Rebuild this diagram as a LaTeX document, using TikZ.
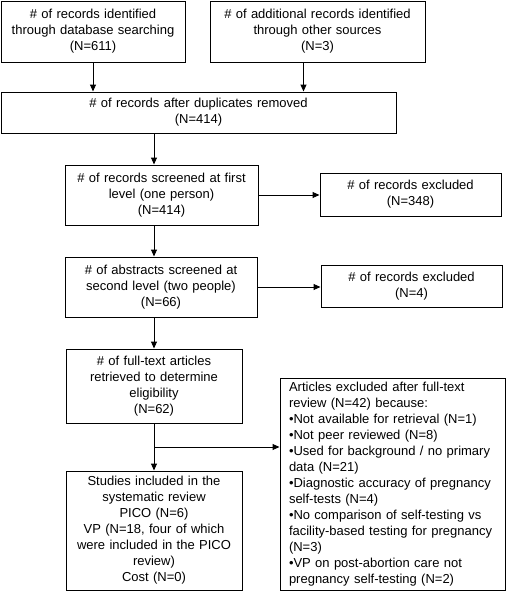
\documentclass[tikz,border=0pt]{standalone}
\usepackage{fontspec}
\setmainfont{Liberation Sans}
\usetikzlibrary{arrows.meta,calc}
\begin{document}
\begin{tikzpicture}[x=1pt, y=-1pt, >={Triangle[width=6pt,length=7pt]}]
\tikzstyle{every node}=[shape=rectangle, draw, line width=1pt, align=center, inner sep=2pt, font=\fontsize{13}{16}\selectfont]
\tikzstyle{box}=[text width=#1-4pt]
\useasboundingbox (0,0) rectangle (514,597);
\node[box=184pt, minimum height=61pt] (DB) at (93, 31.5) {\# of records identified\\through database searching\\(N=611)};
\node[box=215pt, minimum height=61pt] (OS) at (317.5, 31.5) {\# of additional records identified\\through other sources\\(N=3)};
\node[box=395pt, minimum height=41pt] (DR) at (198.5, 112.5) {\# of records after duplicates removed\\(N=414)};
\node[box=193pt, minimum height=60pt] (S1) at (161.5, 195) {\# of records screened at first\\level (one person)\\(N=414)};
\node[box=181pt, minimum height=43pt] (E1) at (410.5, 194.5) {\# of records excluded\\(N=348)};
\node[box=192pt, minimum height=60pt] (S2) at (161, 287) {\# of abstracts screened at\\second level (two people)\\(N=66)};
\node[box=181pt, minimum height=42pt] (E2) at (411.5, 286) {\# of records excluded\\(N=4)};
\node[box=176pt, minimum height=74pt] (FT) at (154, 386) {\# of full-text articles\\retrieved to determine\\eligibility\\(N=62)};
\node[box=176pt, minimum height=119pt] (IN) at (154, 530.5) {Studies included in the\\systematic review\\PICO (N=6)\\VP (N=18, four of which\\were included in the PICO\\review)\\Cost (N=0)};
\node[align=left, text width=207pt, inner xsep=9pt, minimum height=212pt] (FE) at (392.5, 484) {Articles excluded after full-text\\review (N=42) because:\\•Not available for retrieval (N=1)\\•Not peer reviewed (N=8)\\•Used for background / no primary\\data (N=21)\\•Diagnostic accuracy of pregnancy\\self-tests (N=4)\\•No comparison of self-testing vs\\facility-based testing for pregnancy\\(N=3)\\•VP on post-abortion care not\\pregnancy self-testing (N=2)};
\coordinate (BR) at ($(FT.south)!0.5!(IN.north)$);
\draw [->, line width=1pt] (DB.south) to (DB.south |- DR.north);
\draw [->, line width=1pt] ([xshift=-14pt]OS.south) to ([xshift=-14pt]OS.south |- DR.north);
\draw [->, line width=1pt] (DR.south -| FT.north) to (S1.north -| FT.north);
\draw [->, line width=1pt] (S1.east) to (S1.east -| E1.west);
\draw [->, line width=1pt] (S1.south -| FT.north) to (S2.north -| FT.north);
\draw [->, line width=1pt] (S2.east) to (S2.east -| E2.west);
\draw [->, line width=1pt] (S2.south -| FT.north) to (FT.north);
\draw [->, line width=1pt] (FT.south) to (IN.north);
\draw [->, line width=1pt] (BR) to (BR -| FE.west);
\end{tikzpicture}
\end{document}
